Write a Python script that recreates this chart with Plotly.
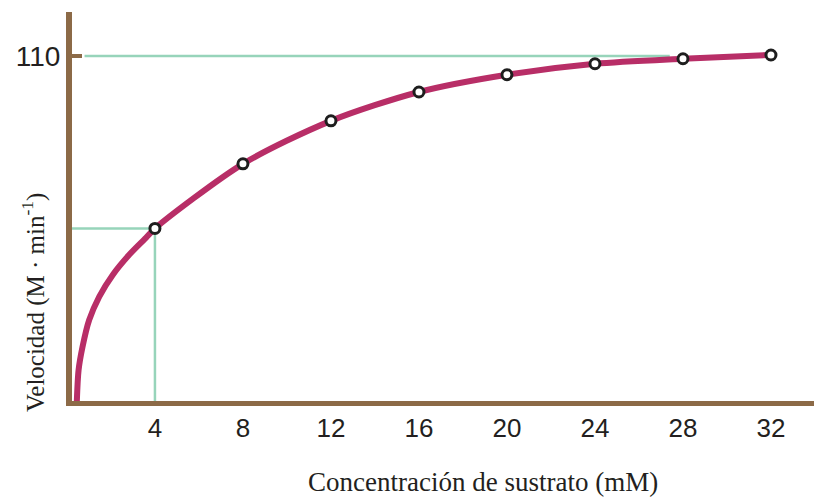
import plotly.graph_objects as go

# Puntos medidos (concentración mM, velocidad)
conc_points = [4, 8, 12, 16, 20, 24, 28, 32]
vel_points = [55.0, 75.6, 89.3, 98.5, 104.0, 107.5, 109.1, 110.3]

# Trazo inicial de la curva
start_x = [0.45, 0.53, 0.71, 1.01, 1.47, 2.08, 2.83, 3.59]
start_y = [0.0, 9.9, 17.3, 25.8, 33.3, 40.2, 46.6, 52.0]
curve_x = start_x + conc_points
curve_y = start_y + vel_points

x_ticks = [4, 8, 12, 16, 20, 24, 28, 32]
vmax = 110

BROWN = "#8C6A47"
CURVE = "#B82E67"
GREEN = "#97D4BA"
TEXT = "#231F20"

fig = go.Figure()

fig.add_trace(go.Scatter(
    x=curve_x, y=curve_y,
    mode="lines",
    line=dict(color=CURVE, width=6, shape="spline", smoothing=0.8),
    hoverinfo="skip",
    showlegend=False,
))
fig.add_trace(go.Scatter(
    x=conc_points, y=vel_points,
    mode="markers",
    marker=dict(size=10, color="white", line=dict(color="#1E1E1E", width=3)),
    showlegend=False,
))

# Líneas guía verdes
fig.add_shape(type="line", x0=0.8, x1=27.4, y0=vmax, y1=vmax,
              line=dict(color=GREEN, width=2.5), layer="below")
fig.add_shape(type="line", x0=0, x1=conc_points[0], y0=vel_points[0], y1=vel_points[0],
              line=dict(color=GREEN, width=2.5), layer="below")
fig.add_shape(type="line", x0=conc_points[0], x1=conc_points[0], y0=0, y1=vel_points[0],
              line=dict(color=GREEN, width=2.5), layer="below")

# la página añade 8 px de margen arriba/izquierda
W, H = 814, 489
L, T, B = 64, 4, 96
pw, ph = W - L, H - T - B

fig.add_annotation(
    text="Velocidad (M · min<sup>-1</sup>)",
    xref="paper", yref="paper", x=(25 - L) / pw, y=(393 - 295) / ph,
    textangle=-90, showarrow=False, xanchor="center", yanchor="middle",
    font=dict(family="Liberation Serif", size=25, color=TEXT),
)
fig.add_annotation(
    text="Concentración de sustrato (mM)",
    xref="paper", yref="paper", x=(475 - L) / pw, y=(393 - 474) / ph,
    showarrow=False, xanchor="center", yanchor="middle",
    font=dict(family="Liberation Serif", size=27, color=TEXT),
)

fig.update_layout(
    width=W, height=H,
    paper_bgcolor="white", plot_bgcolor="white",
    margin=dict(l=L, r=0, t=T, b=B),
    font=dict(family="Liberation Sans", color=TEXT),
    xaxis=dict(
        range=[0.23, 34.32],
        tickvals=x_ticks,
        showgrid=False, zeroline=False,
        showline=True, linecolor=BROWN, linewidth=5,
        ticks="", tickfont=dict(size=26, color=TEXT),
    ),
    yaxis=dict(
        range=[0, 124],
        tickvals=[vmax],
        showgrid=False, zeroline=False,
        showline=True, linecolor=BROWN, linewidth=6,
        ticks="inside", ticklen=10, tickwidth=4, tickcolor=BROWN,
        tickfont=dict(size=28, color=TEXT),
    ),
)

fig.write_html("out.html")
